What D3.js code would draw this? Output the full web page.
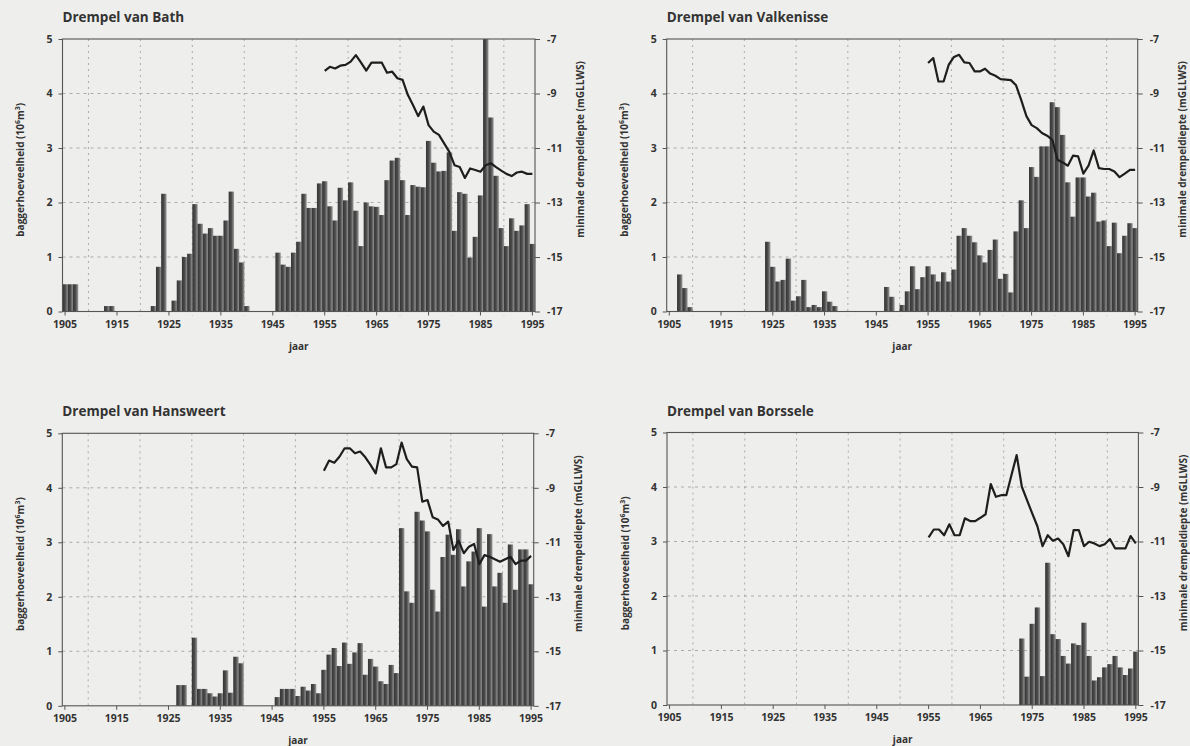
<!DOCTYPE html>
<html lang='nl'>

<head>
    <meta charset='UTF-8'>
    <title>Drempels Westerschelde</title>
    <script src='https://d3js.org/d3.v7.min.js' charset='utf-8'></script>
    <style>
        body {
            margin: 0px;
            overflow: hidden;
            background: #eeeeec;
            font-family: 'Open Sans', 'Noto Sans', sans-serif;
        }

        svg text {
            fill: #333;
            font-weight: bold;
        }

        .title {
            font-size: 13.5px;
        }

        .tick text {
            font-size: 10.5px;
            font-family: 'Open Sans', sans-serif;
        }

        .axis-title {
            font-size: 10px;
        }
    </style>
</head>

<body>
    <div id='chart'></div>
    <script>
        'use strict';

        // categories
        const years = d3.range(1905, 1996);
        const depthYears = d3.range(1955, 1996);
        const yearLabels = [1905, 1915, 1925, 1935, 1945, 1955, 1965, 1975, 1985, 1995];
        const gridYears = [1910, 1920, 1930, 1940, 1950, 1960, 1970, 1980, 1990];
        const volumeTicks = [0, 1, 2, 3, 4, 5];
        const depthTicks = [-7, -9, -11, -13, -15, -17];

        // baggerhoeveelheid (10^6 m3), 1905..1995
        const bathVolume = [
            0.5, 0.5, 0.5, 0, 0, 0, 0, 0, 0.1, 0.1,
            0, 0, 0, 0, 0, 0, 0, 0.1, 0.82, 2.16,
            0, 0.2, 0.57, 1.0, 1.06, 1.97, 1.61, 1.43, 1.53, 1.39,
            1.39, 1.67, 2.2, 1.15, 0.9, 0.1, 0, 0, 0, 0,
            0, 1.08, 0.86, 0.82, 1.08, 1.28, 2.16, 1.9, 1.9, 2.35,
            2.39, 1.93, 1.67, 2.27, 2.04, 2.37, 1.85, 1.2, 2.0, 1.93,
            1.92, 1.77, 2.41, 2.77, 2.82, 2.41, 1.77, 2.32, 2.29, 2.28,
            3.13, 2.73, 2.57, 2.58, 2.92, 1.48, 2.19, 2.16, 0.99, 1.37,
            2.13, 5.0, 3.56, 2.49, 1.53, 1.2, 1.71, 1.48, 1.58, 1.97,
            1.24
        ];
        const valkenisseVolume = [
            0, 0, 0.68, 0.43, 0.08, 0, 0, 0, 0, 0,
            0, 0, 0, 0, 0, 0, 0, 0, 0, 1.28,
            0.82, 0.55, 0.58, 0.97, 0.2, 0.28, 0.58, 0.08, 0.12, 0.08,
            0.37, 0.18, 0.1, 0, 0, 0, 0, 0, 0, 0,
            0, 0, 0.45, 0.27, 0, 0.12, 0.37, 0.83, 0.41, 0.63,
            0.83, 0.68, 0.55, 0.72, 0.55, 0.77, 1.39, 1.53, 1.39, 1.27,
            1.03, 0.9, 1.13, 1.32, 0.6, 0.69, 0.35, 1.47, 2.04, 1.53,
            2.65, 2.47, 3.03, 3.03, 3.84, 3.75, 3.24, 2.37, 1.74, 2.46,
            2.46, 2.11, 2.18, 1.65, 1.67, 1.2, 1.63, 1.07, 1.39, 1.62,
            1.53
        ];
        const hansweertVolume = [
            0, 0, 0, 0, 0, 0, 0, 0, 0, 0,
            0, 0, 0, 0, 0, 0, 0, 0, 0, 0,
            0, 0, 0.38, 0.38, 0, 1.25, 0.31, 0.31, 0.23, 0.17,
            0.23, 0.65, 0.24, 0.9, 0.78, 0, 0, 0, 0, 0,
            0, 0.16, 0.31, 0.31, 0.31, 0.18, 0.35, 0.28, 0.4, 0.23,
            0.66, 0.94, 1.06, 0.73, 1.16, 0.77, 0.98, 1.15, 0.57, 0.86,
            0.72, 0.45, 0.4, 0.75, 0.6, 3.26, 2.1, 1.89, 3.56, 3.4,
            3.2, 2.13, 1.73, 2.73, 3.14, 2.77, 3.24, 2.19, 2.65, 2.83,
            3.26, 1.82, 3.15, 2.19, 2.44, 1.89, 2.96, 2.13, 2.87, 2.87,
            2.23
        ];
        const borsseleVolume = [
            0, 0, 0, 0, 0, 0, 0, 0, 0, 0,
            0, 0, 0, 0, 0, 0, 0, 0, 0, 0,
            0, 0, 0, 0, 0, 0, 0, 0, 0, 0,
            0, 0, 0, 0, 0, 0, 0, 0, 0, 0,
            0, 0, 0, 0, 0, 0, 0, 0, 0, 0,
            0, 0, 0, 0, 0, 0, 0, 0, 0, 0,
            0, 0, 0, 0, 0, 0, 0, 0, 1.22, 0.52,
            1.49, 1.79, 0.53, 2.61, 1.3, 1.21, 0.9, 0.76, 1.13, 1.1,
            1.51, 0.9, 0.45, 0.51, 0.69, 0.75, 0.9, 0.69, 0.55, 0.67,
            0.98
        ];

        // minimale drempeldiepte (m GLLWS), 1955..1995
        const bathDepth = [
            -8.17, -8.02, -8.08, -7.98, -7.95, -7.83, -7.59, -7.87, -8.16, -7.87,
            -7.87, -7.87, -8.24, -8.2, -8.44, -8.5, -9.05, -9.42, -9.83, -9.48,
            -10.16, -10.4, -10.52, -10.83, -11.14, -11.63, -11.7, -12.1, -11.75, -11.81,
            -11.87, -11.63, -11.56, -11.7, -11.83, -11.95, -12.03, -11.9, -11.87, -11.95,
            -11.95
        ];
        const valkenisseDepth = [
            -7.88, -7.7, -8.56, -8.56, -7.94, -7.66, -7.58, -7.86, -7.88, -8.19,
            -8.19, -8.09, -8.27, -8.35, -8.47, -8.49, -8.51, -8.7, -9.24, -9.83,
            -10.16, -10.27, -10.45, -10.55, -10.7, -11.43, -11.53, -11.65, -11.28, -11.31,
            -11.94, -11.65, -11.09, -11.74, -11.77, -11.77, -11.86, -12.07, -11.94, -11.8,
            -11.8
        ];
        const hansweertDepth = [
            -8.37, -8.0, -8.08, -7.86, -7.55, -7.55, -7.73, -7.67, -7.88, -8.16,
            -8.47, -7.55, -8.25, -8.25, -8.13, -7.34, -7.95, -8.22, -8.25, -9.51,
            -9.45, -10.08, -10.16, -10.4, -10.24, -11.28, -10.94, -11.4, -11.16, -11.06,
            -11.8, -11.47, -11.53, -11.62, -11.71, -11.62, -11.53, -11.8, -11.67, -11.67,
            -11.5
        ];
        const borsseleDepth = [
            -10.85, -10.56, -10.56, -10.77, -10.37, -10.77, -10.77, -10.15, -10.25, -10.25,
            -10.13, -10.0, -8.89, -9.36, -9.3, -9.3, -8.56, -7.83, -8.99, -9.48,
            -9.97, -10.44, -11.17, -10.77, -10.97, -10.89, -11.1, -11.54, -10.58, -10.58,
            -11.17, -11.01, -11.07, -11.17, -11.1, -10.91, -11.25, -11.25, -11.25, -10.8,
            -11.07
        ];

        const panels = [
            { title: 'Drempel van Bath', volume: bathVolume, depth: bathDepth, left: 62.5, top: 39, width: 472.5, height: 272.5 },
            { title: 'Drempel van Valkenisse', volume: valkenisseVolume, depth: valkenisseDepth, left: 666.7, top: 39, width: 471, height: 272.5 },
            { title: 'Drempel van Hansweert', volume: hansweertVolume, depth: hansweertDepth, left: 62.3, top: 433.3, width: 471.4, height: 272.5 },
            { title: 'Drempel van Borssele', volume: borsseleVolume, depth: borsseleDepth, left: 667, top: 432.5, width: 471.4, height: 272.5 },
        ];

        const svg = d3.select('#chart')
            .append('svg')
            .attr('width', 1190)
            .attr('height', 746);

        const grad = svg.append('defs').append('linearGradient')
            .attr('id', 'barShade')
            .attr('x1', 0).attr('x2', 1).attr('y1', 0).attr('y2', 0);
        grad.append('stop').attr('offset', '0%').attr('stop-color', '#353535');
        grad.append('stop').attr('offset', '50%').attr('stop-color', '#4b4b4b');
        grad.append('stop').attr('offset', '100%').attr('stop-color', '#9c9c9c');

        function drawPanel(p) {
            const width = p.width, height = p.height;
            const g = svg.append('g').attr('transform', `translate(${p.left}, ${p.top})`);

            const x = d3.scaleBand().domain(years).range([0, width]).padding(0);
            const y = d3.scaleLinear().domain([0, 5]).range([height, 0]);
            const yDepth = d3.scaleLinear().domain([-17, -7]).range([height, 0]);

            // grid
            g.append('g').selectAll('line').data(gridYears).join('line')
                .attr('x1', d => x(d)).attr('x2', d => x(d))
                .attr('y1', 0).attr('y2', height + 4)
                .attr('stroke', '#9a9a9a').attr('stroke-width', 0.8)
                .attr('stroke-dasharray', '2,4');
            g.append('g').selectAll('line').data([1, 2, 3, 4]).join('line')
                .attr('x1', 0).attr('x2', width)
                .attr('y1', d => y(d)).attr('y2', d => y(d))
                .attr('stroke', '#9a9a9a').attr('stroke-width', 0.8)
                .attr('stroke-dasharray', '3,4');

            // bars
            const barData = years.map((yr, i) => ({ year: yr, value: p.volume[i] })).filter(d => d.value > 0);
            g.append('g').selectAll('rect').data(barData).join('rect')
                .attr('x', d => x(d.year))
                .attr('y', d => y(d.value))
                .attr('width', x.bandwidth() + 0.2)
                .attr('height', d => height - y(d.value))
                .attr('fill', 'url(#barShade)');

            // depth line
            const lineData = depthYears.map((yr, i) => ({ year: yr, depth: p.depth[i] }));
            g.append('path')
                .datum(lineData)
                .attr('fill', 'none')
                .attr('stroke', '#1e1e1e')
                .attr('stroke-width', 2.2)
                .attr('stroke-linejoin', 'round')
                .attr('d', d3.line()
                    .x(d => x(d.year) + x.bandwidth() / 2)
                    .y(d => yDepth(d.depth)));

            // frame
            g.append('rect')
                .attr('width', width).attr('height', height)
                .attr('fill', 'none').attr('stroke', '#555').attr('stroke-width', 1.1);

            // axes
            const left = g.append('g')
                .call(d3.axisLeft(y).tickValues(volumeTicks).tickFormat(d3.format('d'))
                    .tickSize(4).tickPadding(6));
            const right = g.append('g')
                .attr('transform', `translate(${width}, 0)`)
                .call(d3.axisRight(yDepth).tickValues(depthTicks).tickFormat(d => String(d))
                    .tickSize(5).tickPadding(7));
            const bottom = g.append('g')
                .attr('transform', `translate(0, ${height})`)
                .call(d3.axisBottom(x).tickValues(yearLabels).tickSize(4).tickPadding(5));
            [left, right, bottom].forEach(a => {
                a.select('.domain').remove();
                a.selectAll('line').attr('stroke', '#555');
                a.selectAll('text').attr('fill', '#333');
            });

            // titles
            g.append('text')
                .attr('class', 'title')
                .attr('x', 0).attr('y', -17)
                .text(p.title);

            const lt = g.append('text')
                .attr('class', 'axis-title')
                .attr('transform', `translate(-42, ${height * 0.48}) rotate(-90)`)
                .attr('text-anchor', 'middle')
                .attr('dy', '0.35em');
            lt.append('tspan').text('baggerhoeveelheid (10');
            lt.append('tspan').attr('dy', -4).attr('font-size', '7px').text('6');
            lt.append('tspan').attr('dy', 4).text('m');
            lt.append('tspan').attr('dy', -4).attr('font-size', '7px').text('3');
            lt.append('tspan').attr('dy', 4).text(')');

            g.append('text')
                .attr('class', 'axis-title')
                .attr('transform', `translate(${width + 45}, ${height * 0.405}) rotate(-90)`)
                .attr('text-anchor', 'middle')
                .attr('dy', '0.35em')
                .text('minimale drempeldiepte (mGLLWS)');

            g.append('text')
                .attr('class', 'axis-title')
                .attr('x', width / 2).attr('y', height + 38)
                .attr('text-anchor', 'middle')
                .text('jaar');
        }

        panels.forEach(drawPanel);
    </script>
</body>

</html>
